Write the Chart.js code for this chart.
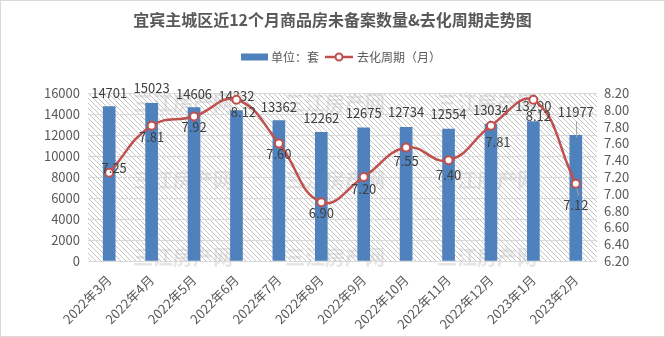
<!DOCTYPE html>
<html lang="zh-CN">
<head>
<meta charset="UTF-8">
<title>宜宾主城区近12个月商品房未备案数量&去化周期走势图</title>
<script src="https://cdn.jsdelivr.net/npm/chart.js"></script>
<style>
  html, body { margin: 0; padding: 0; background: #fff; }
  #wrap { width: 665px; height: 337px; }
</style>
</head>
<body>
<div id="wrap"><canvas id="chart" width="665" height="337"></canvas></div>
<script>
  // 数据
  const months = ['2022年3月', '2022年4月', '2022年5月', '2022年6月', '2022年7月', '2022年8月',
                  '2022年9月', '2022年10月', '2022年11月', '2022年12月', '2023年1月', '2023年2月'];
  const units = [14701, 15023, 14606, 14332, 13362, 12262, 12675, 12734, 12554, 13034, 13290, 11977];
  const cycle = [7.25, 7.81, 7.92, 8.12, 7.60, 6.90, 7.20, 7.55, 7.40, 7.81, 8.12, 7.12];
  const unitMin = 0, unitMax = 16000, unitStep = 2000;
  const cycleMin = 6.2, cycleMax = 8.2, cycleStep = 0.2;

  const titleText = '宜宾主城区近12个月商品房未备案数量&去化周期走势图';
  const unitName = '单位：套';
  const cycleName = '去化周期（月）';

  const FONT = "'Noto Sans CJK SC', 'Microsoft YaHei', sans-serif";
  const BLUE = '#4f81bd';
  const RED = '#c0504d';

  // 标签偏移（手动微调过的位置）
  const barLabelLift = [14, 15, 14, 14, 14, 14, 15, 15, 15, 14, 15, 23];
  const lineLabelDrop = [-5, 11, 11, 12, 11, 11, 12, 13, 15, 16, 16, 21];
  const lineLabelShift = [5, 0, 0, 7, 0, 0, 0, 0, 0, 7, 5, 0];

  // 绘图区斜线底纹
  const hatch = (() => {
    const c = document.createElement('canvas');
    c.width = 5; c.height = 5;
    const g = c.getContext('2d');
    g.strokeStyle = '#c4c4c4';
    g.lineWidth = 1;
    g.beginPath(); g.moveTo(-1, -1); g.lineTo(6, 6); g.stroke();
    return c;
  })();

  const decor = {
    id: 'decor',
    beforeDraw(chart) {
      const ctx = chart.ctx, a = chart.chartArea;
      ctx.save();
      ctx.fillStyle = '#fff';
      ctx.fillRect(0, 0, chart.width, chart.height);
      ctx.strokeStyle = '#d9d9d9';
      ctx.lineWidth = 1;
      ctx.strokeRect(0.5, 0.5, chart.width - 1, chart.height - 1);

      // 标题
      ctx.fillStyle = '#595959';
      ctx.font = 'bold 16px ' + FONT;
      ctx.textAlign = 'center';
      ctx.textBaseline = 'middle';
      ctx.fillText(titleText, chart.width / 2, 20);

      // 图例
      ctx.font = '12px ' + FONT;
      ctx.textAlign = 'left';
      const w1 = ctx.measureText(unitName).width;
      const w2 = ctx.measureText(cycleName).width;
      const total = 27 + 3 + w1 + 6 + 28 + 4 + w2;
      let x = 341 - total / 2;
      const ly = 57;
      ctx.fillStyle = BLUE;
      ctx.fillRect(x, ly - 3.5, 27, 7);
      x += 30;
      ctx.fillStyle = '#595959';
      ctx.fillText(unitName, x, ly);
      x += w1 + 6;
      ctx.strokeStyle = RED;
      ctx.lineWidth = 2.5;
      ctx.beginPath(); ctx.moveTo(x, ly); ctx.lineTo(x + 28, ly); ctx.stroke();
      ctx.fillStyle = '#fff';
      ctx.lineWidth = 2;
      ctx.beginPath(); ctx.arc(x + 14, ly, 3.5, 0, Math.PI * 2); ctx.fill(); ctx.stroke();
      x += 32;
      ctx.fillStyle = '#595959';
      ctx.fillText(cycleName, x, ly);

      // 底纹
      ctx.fillStyle = ctx.createPattern(hatch, 'repeat');
      ctx.fillRect(a.left, a.top, a.right - a.left, a.bottom - a.top);

      // 水印
      ctx.font = 'bold 20px ' + FONT;
      ctx.textAlign = 'center';
      ctx.fillStyle = 'rgba(180,180,180,0.35)';
      [183, 335, 487].forEach(wx => {
        [103, 180, 257].forEach(wy => ctx.fillText('三江房产网', wx, wy));
      });
      ctx.restore();
    },
    afterDatasetDraw(chart, args) {
      if (args.index !== 0) return;
      const ctx = chart.ctx;
      ctx.save();
      ctx.font = '13px ' + FONT;
      ctx.fillStyle = '#404040';
      ctx.textAlign = 'center';
      ctx.textBaseline = 'middle';
      args.meta.data.forEach((bar, i) => {
        const ty = bar.y - barLabelLift[i];
        ctx.fillText(String(units[i]), bar.x, ty);
        if (barLabelLift[i] > 18) {
          ctx.strokeStyle = '#a6a6a6';
          ctx.lineWidth = 1;
          ctx.beginPath();
          ctx.moveTo(Math.round(bar.x) + 0.5, ty + 9);
          ctx.lineTo(Math.round(bar.x) + 0.5, bar.y + 2);
          ctx.stroke();
        }
      });
      ctx.restore();
    },
    afterDatasetsDraw(chart) {
      const ctx = chart.ctx;
      const meta = chart.getDatasetMeta(1);
      ctx.save();
      ctx.font = '13px ' + FONT;
      ctx.fillStyle = '#404040';
      ctx.textAlign = 'center';
      ctx.textBaseline = 'middle';
      meta.data.forEach((pt, i) => {
        if (lineLabelDrop[i] > 18) {
          ctx.strokeStyle = '#a6a6a6';
          ctx.lineWidth = 1;
          ctx.beginPath();
          ctx.moveTo(pt.x + 1, pt.y + 5);
          ctx.lineTo(pt.x + 3, pt.y + 12);
          ctx.stroke();
        }
        ctx.fillText(cycle[i].toFixed(2), pt.x + lineLabelShift[i], pt.y + lineLabelDrop[i]);
      });
      ctx.restore();
    }
  };

  new Chart(document.getElementById('chart'), {
    data: {
      labels: months,
      datasets: [
        {
          type: 'bar',
          label: unitName,
          data: units,
          backgroundColor: BLUE,
          barThickness: 12,
          yAxisID: 'y',
          order: 2
        },
        {
          type: 'line',
          label: cycleName,
          data: cycle,
          borderColor: RED,
          borderWidth: 2.5,
          tension: 0.45,
          pointRadius: 4,
          pointBorderWidth: 2,
          pointBackgroundColor: '#fff',
          pointBorderColor: RED,
          yAxisID: 'y1',
          order: 1
        }
      ]
    },
    options: {
      responsive: false,
      animation: false,
      layout: { padding: { top: 93, left: 0, right: 0, bottom: 0 } },
      plugins: {
        legend: { display: false },
        title: { display: false },
        tooltip: { enabled: false }
      },
      scales: {
        x: {
          grid: { display: false, drawTicks: false },
          border: { display: false },
          ticks: {
            autoSkip: false,
            minRotation: 45,
            maxRotation: 45,
            padding: 11,
            color: '#595959',
            font: { family: FONT, size: 13 }
          },
          afterFit(s) { s.height = 76; }
        },
        y: {
          position: 'left',
          min: unitMin,
          max: unitMax,
          grid: { color: '#d9d9d9', drawTicks: false },
          border: { display: false },
          ticks: {
            stepSize: unitStep,
            autoSkip: false,
            padding: 8,
            color: '#595959',
            font: { family: FONT, size: 13 },
            callback: v => String(v)
          },
          afterFit(s) { s.width = 88; }
        },
        y1: {
          position: 'right',
          min: cycleMin,
          max: cycleMax,
          grid: { display: false, drawTicks: false },
          border: { display: false },
          ticks: {
            stepSize: cycleStep,
            autoSkip: false,
            padding: 7,
            color: '#595959',
            font: { family: FONT, size: 13 },
            callback: v => Number(v).toFixed(2)
          },
          afterFit(s) { s.width = 68; }
        }
      }
    },
    plugins: [decor]
  });
</script>
</body>
</html>
